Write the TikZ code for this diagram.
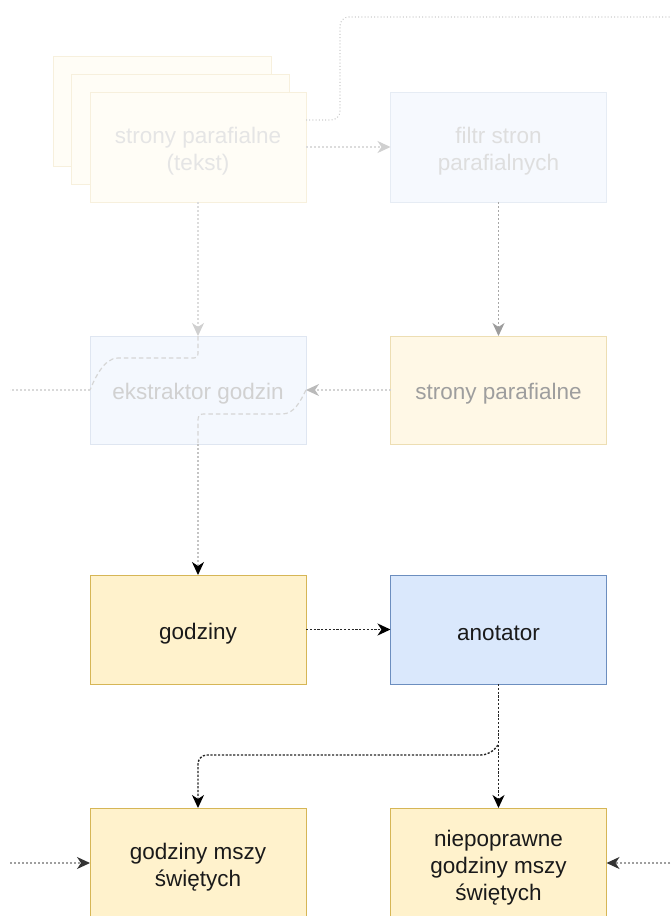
\documentclass[tikz,border=0pt]{standalone}
\usepackage{fontspec}
\setmainfont{Liberation Sans}
\usetikzlibrary{arrows.meta,calc}
\definecolor{noteFill}{HTML}{FFF2CC}
\definecolor{noteDraw}{HTML}{D6B656}
\definecolor{procFill}{HTML}{DAE8FC}
\definecolor{procDraw}{HTML}{6C8EBF}
\definecolor{txt}{HTML}{1A1A1A}
\definecolor{lineGray}{HTML}{C4C4C4}
\tikzset{
  box/.style={rectangle, inner sep=0pt, outer sep=0pt, minimum width=216pt,
    minimum height=109pt, line width=1pt},
  lbl/.style={align=center, text=txt, inner sep=0pt, font=\fontsize{22.5}{27}\selectfont},
  databox/.style={box, fill=noteFill, draw=noteDraw},
  procbox/.style={box, fill=procFill, draw=procDraw},
  paleData/.style={box, fill=noteFill!18!white, draw=noteDraw!20!white},
  paleProc/.style={box, fill=procFill!25!white, draw=procDraw!17!white},
  tipc/.style={-{Stealth[length=13pt,width=12pt,inset=4pt,color=#1]}},
  tip/.style={tipc=black},
  flow/.style={tip, line width=1.4pt, dash pattern=on 2.2pt off 1.6pt, draw=black!85},
  faint/.style={line width=1.2pt, dash pattern=on 2pt off 2pt, draw=lineGray},
  faintdots/.style={line width=1.1pt, dash pattern=on 1pt off 2.2pt, draw=lineGray!85},
  inner/.style={line width=1.2pt, dash pattern=on 4.5pt off 3pt, draw=lineGray!80},
}
\begin{document}
\begin{tikzpicture}[x=1pt,y=-1pt]
\useasboundingbox (0,0) rectangle (670,916);

% stacked text pages
\node[paleData, minimum width=218pt, minimum height=110pt] (page3) at (162,111) {};
\node[paleData, minimum width=218pt, minimum height=110pt] (page2) at (180.5,129) {};
\node[paleData, minimum height=110pt] (src) at (198,147) {};
\node[lbl, text=black!10] at ([yshift=-4pt]src.center) {strony parafialne\\(tekst)};
\node[paleProc, minimum height=110pt] (filtr) at (498.5,147) {};
\node[lbl, text=black!13] at ([yshift=-4pt]filtr.center) {filtr stron\\parafialnych};

% second row
\node[paleProc, fill=procFill!30!white, draw=procDraw!22!white, minimum height=108pt] (ekstr) at (198,390) {};
\node[box, fill=noteFill!50!white, draw=noteDraw!45!white, minimum height=108pt] (strony) at (498.5,390) {};
\node[lbl, text=black!38] at ([yshift=-4pt]strony.center) {strony parafialne};

% third row
\node[databox] (godz) at (198,629.5) {};
\node[lbl] at ([yshift=-4pt]godz.center) {godziny};
\node[procbox] (anot) at (498.5,629.5) {};
\node[lbl] at ([yshift=-4pt]anot.center) {anotator};

% bottom row (runs past the lower edge)
\node[databox, minimum height=110pt] (msze) at (198,863) {};
\node[lbl] (mszeTxt) at (198,867) {godziny mszy\\świętych};
\node[databox, minimum height=110pt] (niep) at (498.5,863) {};
\node[lbl] (niepTxt) at (498.5,868) {niepoprawne\\godziny mszy\\świętych};

% loose ends
\coordinate (outTR) at (670,17);
\coordinate (inL) at (10,390);
\coordinate (inMsze) at (10,863);
\coordinate (inNiep) at (670,863);

% faded upper flow
\draw[faintdots, rounded corners=9pt] ([yshift=27pt]src.east) -| (340,17) -- (outTR);
\draw[faint, draw=lineGray!60, tipc=lineGray!80] (src.east) -- (filtr.west);
\draw[faint, draw=lineGray!60, tipc=lineGray!80] (src.south) -- (ekstr.north);
\draw[faint, draw=lineGray!85!black, tipc=lineGray!80!black] (filtr.south) -- (strony.north);

% paths crossing the extractor
\draw[inner, draw=lineGray!70] (ekstr.north) -- (198,350) .. controls (198,358) .. (190,358)
  -- (118,358) .. controls (104,358) and (95,378) .. (ekstr.west);
\draw[faint, draw=lineGray!65] (ekstr.west) -- (inL);
\draw[inner, draw=lineGray!70] (ekstr.east) .. controls (300,402) and (294,414) .. (282,414)
  -- (207,414) .. controls (198,414) .. (198,424) -- (ekstr.south);
\draw[faint, draw=lineGray!75, tipc=lineGray!95!black] (strony.west) -- (ekstr.east);
\node[lbl, text=black!18] at ([yshift=-4pt]ekstr.center) {ekstraktor godzin};

% extractor to hours
\draw[faint, tip] (ekstr.south) -- (godz.north);

% main flow
\draw[flow] (godz.east) -- (anot.west);
\draw[flow] (anot.south) -- (niep.north);
\draw[flow, rounded corners=9pt] (498,745) -- (490,755) -- (198,755) -- (msze.north);

% inputs of the bottom row
\draw[faint, draw=gray!75, tipc=black!80] (inMsze) -- (msze.west);
\draw[faint, draw=gray!75, tipc=black!80] (inNiep) -- (niep.east);
\end{tikzpicture}
\end{document}
